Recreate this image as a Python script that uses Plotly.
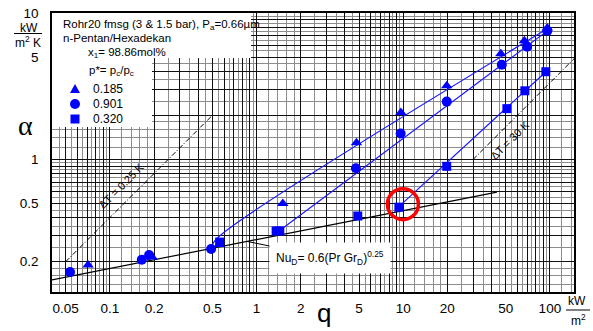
import math
import plotly.graph_objects as go

# ---------------- data ----------------
# p* = 0.185 (triangles)
q_tri = [0.071, 0.194, 0.56, 1.51, 4.8, 9.64, 19.8, 46.3, 67, 96]
a_tri = [0.190, 0.215, 0.262, 0.50, 1.30, 2.09, 3.18, 5.26, 6.45, 7.9]
# p* = 0.901 (circles)
q_cir = [0.0535, 0.165, 0.185, 0.49, 4.76, 9.6, 19.8, 47, 70, 96]
a_cir = [0.170, 0.206, 0.222, 0.244, 0.87, 1.50, 2.48, 4.43, 5.88, 7.55]
# p* = 0.320 (squares)
q_sq = [0.56, 1.36, 1.44, 4.9, 9.34, 19.8, 50.9, 67.5, 93.8]
a_sq = [0.272, 0.324, 0.324, 0.41, 0.471, 0.896, 2.22, 2.94, 3.97]

# fitted lines
fit_tri_q = [0.49, 0.54, 96]
fit_tri_a = [0.25, 0.29, 7.8]
fit_cir_q = [1.4, 96]
fit_cir_a = [0.32, 7.55]
fit_sq_q = [8.8, 94]
fit_sq_a = [0.45, 3.97]

# natural convection Nu_D = 0.6 (Pr Gr_D)^0.25
nu_q = [0.0403, 43.5]
nu_a = [0.150, 0.597]

# constant wall superheat lines
dt025_q = [0.05, 0.5]
dt025_a = [0.2, 2.0]
dt30_q = [30, 150]
dt30_a = [1.0, 5.0]

# highlighted point
hl_q = [9.95]
hl_a = [0.494]

legend_labels = ["0.185", "0.901", "0.320"]

x_tick_labels = ["0.05", "0.1", "0.2", "0.5", "1", "2", "5", "10", "20", "50", "100"]
y_tick_labels = ["0.2", "0.5", "1", "5", "10"]

# ---------------- layout helpers ----------------
W, H = 593, 331
L, R, T, B = 52, 19, 13, 39
PW, PH = W - L - R, H - T - B


def px_x(px):
    return (px - L) / PW


def px_y(py):
    return 1 - (py - T) / PH


def grid_values(lo, hi, mults):
    vals = []
    for e in range(-3, 4):
        for m in mults:
            v = round(m * 10 ** e, 6)
            if lo <= v <= hi:
                vals.append(v)
    return sorted(set(vals))


major_mults = [1, 2, 3, 4, 5, 6, 7, 8, 9]
minor_mults = [1.2, 1.4, 1.6, 1.8, 2.5, 3.5, 4.5, 5.5, 6.5, 7.5, 8.5, 9.5]

xmaj = grid_values(0.04, 150, major_mults)
ymaj = grid_values(0.12, 10, major_mults)
xmin = grid_values(0.04, 150, minor_mults)
ymin = grid_values(0.12, 10, minor_mults)


def fmt(v):
    return "%g" % v


xtext = [fmt(v) if fmt(v) in x_tick_labels else "" for v in xmaj]
ytext = [fmt(v) if fmt(v) in y_tick_labels else "" for v in ymaj]

BLUE = "#0000ff"
LINEBLUE = "#1a1aff"
FONT = "Liberation Sans, Arial, sans-serif"
DASHDOT = "5px,2px,1px,2px"

fig = go.Figure()

# reference lines
fig.add_trace(go.Scatter(x=nu_q, y=nu_a, mode="lines",
                         line=dict(color="black", width=1.2), showlegend=False))
fig.add_trace(go.Scatter(x=dt025_q, y=dt025_a, mode="lines",
                         line=dict(color="black", width=1, dash=DASHDOT), showlegend=False))
fig.add_trace(go.Scatter(x=dt30_q, y=dt30_a, mode="lines",
                         line=dict(color="black", width=1, dash=DASHDOT), showlegend=False))

# fit lines
for fq, fa in [(fit_tri_q, fit_tri_a), (fit_cir_q, fit_cir_a), (fit_sq_q, fit_sq_a)]:
    fig.add_trace(go.Scatter(x=fq, y=fa, mode="lines", line=dict(color=LINEBLUE, width=1.2),
                             line_shape="spline", showlegend=False))

# data markers
fig.add_trace(go.Scatter(x=q_tri, y=a_tri, mode="markers",
                         marker=dict(symbol="triangle-up", size=10, color=BLUE), showlegend=False))
fig.add_trace(go.Scatter(x=q_cir, y=a_cir, mode="markers",
                         marker=dict(symbol="circle", size=10, color=BLUE), showlegend=False))
fig.add_trace(go.Scatter(x=q_sq, y=a_sq, mode="markers",
                         marker=dict(symbol="square", size=9, color=BLUE), showlegend=False))

# highlight circle
fig.add_trace(go.Scatter(x=hl_q, y=hl_a, mode="markers",
                         marker=dict(symbol="circle-open", size=31, color="red",
                                     line=dict(color="red", width=3.5)),
                         showlegend=False))


def rect_px(x0, y0, x1, y1, **kw):
    return dict(type="rect", xref="paper", yref="paper", x0=px_x(x0), x1=px_x(x1),
                y0=px_y(y1), y1=px_y(y0), layer="above", **kw)


shapes = [
    # white boxes behind header/legend text
    rect_px(L, T, 251, 58, fillcolor="white", line=dict(width=0)),
    rect_px(L, T, 152, 127, fillcolor="white", line=dict(width=0)),
    # unit fraction bars
    dict(type="line", xref="paper", yref="paper", x0=px_x(14), x1=px_x(42), y0=px_y(33.5), y1=px_y(33.5),
         line=dict(color="black", width=1)),
    dict(type="line", xref="paper", yref="paper", x0=px_x(566), x1=px_x(590), y0=px_y(310), y1=px_y(310),
         line=dict(color="black", width=1)),
]

# legend symbols (drawn over the white box)
cx = 75
ty, cy, sy = 89, 104, 119
tri_path = "M %f,%f L %f,%f L %f,%f Z" % (px_x(cx - 5), px_y(ty + 4), px_x(cx + 5), px_y(ty + 4),
                                           px_x(cx), px_y(ty - 5))
shapes.append(dict(type="path", xref="paper", yref="paper", path=tri_path, fillcolor=BLUE,
                   line=dict(width=0), layer="above"))
shapes.append(dict(type="circle", xref="paper", yref="paper", x0=px_x(cx - 5), x1=px_x(cx + 5),
                   y0=px_y(cy + 5), y1=px_y(cy - 5), fillcolor=BLUE, line=dict(width=0), layer="above"))
shapes.append(rect_px(cx - 4.5, sy - 4.5, cx + 4.5, sy + 4.5, fillcolor=BLUE, line=dict(width=0)))

ann = []


def text(x, y, s, size=11, xanchor="left", angle=0, family=FONT):
    ann.append(dict(xref="paper", yref="paper", x=x, y=y, text=s, showarrow=False,
                    xanchor=xanchor, yanchor="middle", textangle=angle,
                    font=dict(family=family, size=size, color="black")))


text(px_x(61), px_y(25), "Rohr20 fmsg (3 &amp; 1.5 bar), P<sub>a</sub>=0.66µm", 11.5)
text(px_x(61), px_y(38), "n-Pentan/Hexadekan", 11.5)
text(px_x(86), px_y(53), "x<sub>1</sub>= 98.86mol%", 11.5)
text(px_x(87), px_y(71), "p*= p<sub>c</sub>/p<sub>c</sub>", 11.5)
for lab, yy in zip(legend_labels, [ty, cy, sy]):
    text(px_x(91), px_y(yy), lab, 12)

text(px_x(121), px_y(186), "ΔT = 0.25 K", 11, xanchor="center", angle=-45)
text(px_x(510), px_y(140), "ΔT = 30 K", 11, xanchor="center", angle=-45)

# axis titles and units
text(px_x(25), px_y(125), "α", 28, xanchor="center", family="Liberation Serif, Times New Roman, serif")
text(px_x(324), px_y(313), "q", 26, xanchor="center")
text(px_x(29), px_y(27.5), "kW", 12, xanchor="center")
text(px_x(28), px_y(42), "m<sup>2</sup> K", 12, xanchor="center")
text(px_x(577), px_y(301), "kW", 12, xanchor="center")
text(px_x(578), px_y(320), "m<sup>2</sup>", 12, xanchor="center")

# Nu_D label with leader line
ann.append(dict(x=math.log10(0.86), y=math.log10(0.275), xref="x", yref="y",
                text="Nu<sub>D</sub>= 0.6(Pr Gr<sub>D</sub>)<sup>0.25</sup>",
                showarrow=True, arrowhead=0, arrowwidth=1, arrowcolor="black",
                ax=83, ay=17, bgcolor="white", borderpad=6,
                font=dict(family=FONT, size=12, color="black")))

axis_common = dict(type="log", showline=True, linecolor="black", linewidth=1.5, mirror=True,
                   showgrid=True, gridcolor="#111111", gridwidth=1, ticks="", zeroline=False,
                   automargin=False,
                   tickfont=dict(family=FONT, size=13.5, color="black"))

fig.update_layout(
    width=W, height=H,
    margin=dict(l=L, r=R, t=T, b=B, autoexpand=False),
    paper_bgcolor="white", plot_bgcolor="white",
    showlegend=False,
    xaxis=dict(range=[math.log10(0.0403), math.log10(146)], tickmode="array",
               tickvals=xmaj, ticktext=xtext, ticklabelstandoff=3,
               minor=dict(tickmode="array", tickvals=xmin, showgrid=True, gridcolor="#8c8c8c", gridwidth=1),
               **axis_common),
    yaxis=dict(range=[math.log10(0.124), 1.0], tickmode="array",
               tickvals=ymaj, ticktext=ytext, ticklabelstandoff=9,
               minor=dict(tickmode="array", tickvals=ymin, showgrid=True, gridcolor="#8c8c8c", gridwidth=1),
               **axis_common),
    shapes=shapes,
    annotations=ann,
)

fig.write_html("out.html")
